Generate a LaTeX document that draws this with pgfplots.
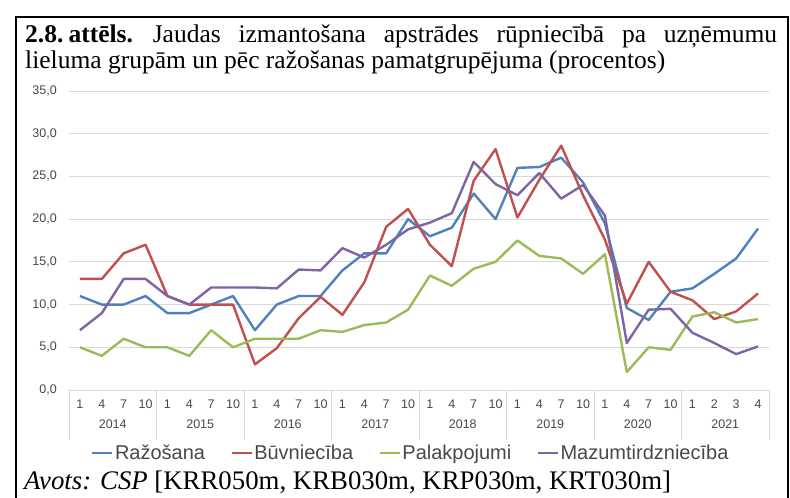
\documentclass[border=0pt]{standalone}
\usepackage{fontspec}
\setmainfont{Liberation Serif}
\newfontfamily\arial{Liberation Sans}
\usepackage{pgfplots}
\pgfplotsset{compat=1.18}
\definecolor{cblue}{HTML}{4F81BD}
\definecolor{cred}{HTML}{C0504D}
\definecolor{cgreen}{HTML}{9BBB59}
\definecolor{cpurple}{HTML}{8064A2}
\definecolor{gridc}{HTML}{D9D9D9}
\definecolor{txt}{HTML}{484848}
\begin{document}
\begin{tikzpicture}
\path[use as bounding box] (0,0) rectangle (790pt,498pt);
\draw[line width=1.6pt] (16pt,-2pt) -- (16pt,481pt) -- (788pt,481pt) -- (788pt,-2pt);
\node[anchor=base west, inner sep=0pt, font=\fontsize{25.5}{28}\selectfont] at (25pt,455pt)
  {\makebox[752pt][s]{\mbox{\textbf{2.8.\hspace{0.2em}attēls.}}\hspace{2pt} Jaudas izmantošana apstrādes rūpniecībā pa uzņēmumu}};
\node[anchor=base west, inner sep=0pt, font=\fontsize{25.5}{28}\selectfont] at (25pt,429pt)
  {lieluma grupām un pēc ražošanas pamatgrupējuma (procentos)};
\node[anchor=base west, inner sep=0pt, font=\fontsize{26.8}{29}\selectfont] at (24pt,8pt)
  {\textit{Avots: CSP} [KRR050m, KRB030m, KRP030m, KRT030m]};
\begin{axis}[
  at={(69pt,108pt)}, anchor=south west, scale only axis,
  width=700pt, height=299pt,
  xmin=-0.5, xmax=31.5, ymin=0, ymax=35,
  clip=false,
  axis x line*=bottom, axis y line*=left,
  y axis line style={draw=none},
  x axis line style={gridc, line width=0.8pt},
  ymajorgrids, grid style={gridc, line width=0.8pt},
  major tick length=0pt, tick style={draw=none},
  ytick={0,5,10,15,20,25,30,35},
  yticklabels={{0,0},{5,0},{10,0},{15,0},{20,0},{25,0},{30,0},{35,0}},
  xtick={0,...,31},
  xticklabels={1,4,7,10,1,4,7,10,1,4,7,10,1,4,7,10,1,4,7,10,1,4,7,10,1,4,7,10,1,2,3,4},
  xticklabel style={font=\arial\fontsize{12.5}{13}\selectfont, text=txt, anchor=center, yshift=-14pt},
  yticklabel style={font=\arial\fontsize{12.5}{13}\selectfont, text=txt, anchor=east, inner sep=0pt, xshift=-12pt},
  legend columns=4,
  legend style={at={(0.488,-0.211)}, anchor=center, draw=none, fill=none,
    font=\arial\fontsize{20}{22}\selectfont, text=txt,
    /tikz/every even column/.append style={column sep=24pt},
    nodes={inner sep=1.5pt}},
  legend cell align=left,
  legend image code/.code={\draw[#1, line width=2.2pt] (0pt,0pt) -- (20pt,0pt);},
  every axis plot/.append style={line width=2.4pt, line join=round},
]
\addplot[cblue] coordinates {(0,11) (1,10) (2,10) (3,11) (4,9) (5,9) (6,10) (7,11) (8,7) (9,10) (10,11) (11,11) (12,14) (13,16) (14,16) (15,20) (16,18) (17,19) (18,23) (19,20) (20,26) (21,26.1) (22,27.2) (23,24.3) (24,19.5) (25,9.6) (26,8.2) (27,11.5) (28,11.9) (29,13.6) (30,15.4) (31,18.9)};
\addlegendentry{Ražošana}
\addplot[cred] coordinates {(0,13) (1,13) (2,16) (3,17) (4,11) (5,10) (6,10) (7,10) (8,3) (9,4.9) (10,8.4) (11,10.9) (12,8.8) (13,12.6) (14,19.1) (15,21.2) (16,17) (17,14.5) (18,24.5) (19,28.2) (20,20.2) (21,24.6) (22,28.6) (23,22.8) (24,17.6) (25,10.1) (26,15.0) (27,11.5) (28,10.5) (29,8.3) (30,9.2) (31,11.3)};
\addlegendentry{Būvniecība}
\addplot[cgreen] coordinates {(0,5) (1,4) (2,6) (3,5) (4,5) (5,4) (6,7) (7,5) (8,6) (9,6) (10,6) (11,7) (12,6.8) (13,7.6) (14,7.9) (15,9.4) (16,13.4) (17,12.2) (18,14.2) (19,15.0) (20,17.5) (21,15.7) (22,15.4) (23,13.6) (24,15.9) (25,2.1) (26,5.0) (27,4.7) (28,8.6) (29,9.1) (30,7.9) (31,8.3)};
\addlegendentry{Palakpojumi}
\addplot[cpurple] coordinates {(0,7) (1,9) (2,13) (3,13) (4,11) (5,10) (6,12) (7,12) (8,12) (9,11.9) (10,14.1) (11,14) (12,16.6) (13,15.5) (14,17) (15,18.8) (16,19.6) (17,20.7) (18,26.7) (19,24.1) (20,22.8) (21,25.4) (22,22.4) (23,24) (24,20.4) (25,5.5) (26,9.4) (27,9.5) (28,6.7) (29,5.5) (30,4.2) (31,5.1)};
\addlegendentry{Mazumtirdzniecība}
\pgfplotsinvokeforeach{-0.5,3.5,7.5,11.5,15.5,19.5,23.5,27.5,31.5}{
  \draw[gridc, line width=0.8pt] (axis cs:#1,0) -- ++(0pt,-50pt);
}
\pgfplotsinvokeforeach{2014,2015,2016,2017,2018,2019,2020,2021}{
  \node[font=\arial\fontsize{12.5}{13}\selectfont, text=txt, anchor=center]
    at (axis cs:{(#1-2014)*4+1.5},0) [yshift=-34pt] {#1};
}
\end{axis}
\end{tikzpicture}
\end{document}
